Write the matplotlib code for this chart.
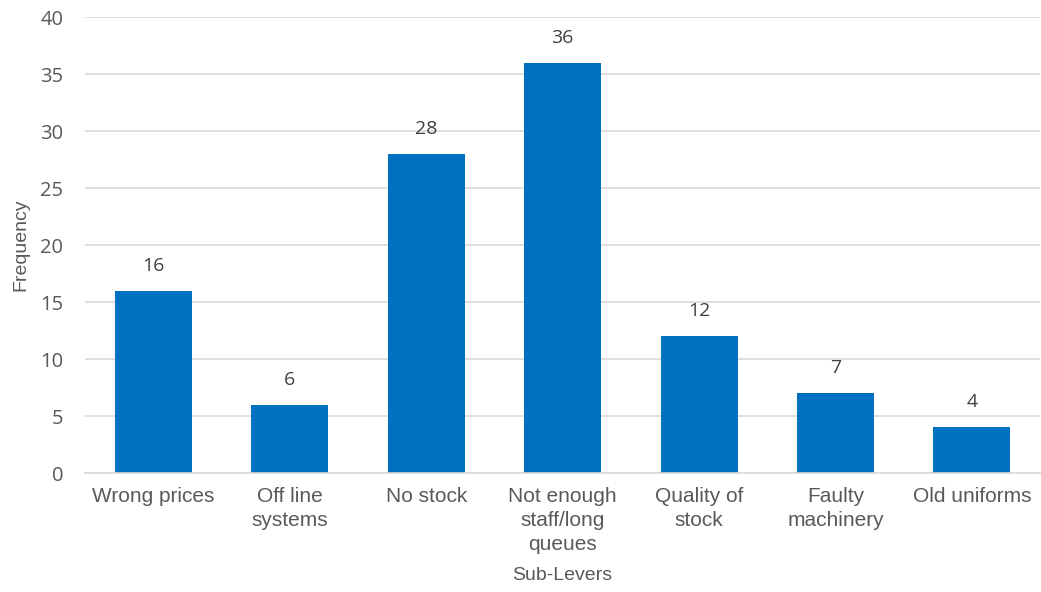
import numpy as np
import matplotlib
matplotlib.use("Agg")
import matplotlib.pyplot as plt

categories = ["Wrong prices", "Off line\nsystems", "No stock",
              "Not enough\nstaff/long\nqueues", "Quality of\nstock",
              "Faulty\nmachinery", "Old uniforms"]
frequency = [16, 6, 28, 36, 12, 7, 4]
y_ticks = [0, 5, 10, 15, 20, 25, 30, 35, 40]

BLUE = "#0070C0"
GREY = "#595959"
ARIAL = ["Liberation Sans", "Arial", "DejaVu Sans"]
SEGOE = ["Open Sans", "DejaVu Sans"]


def main():
    fig = plt.figure(figsize=(10.41, 5.92), dpi=100)
    ax = fig.add_axes([0.082, 0.201, 0.917, 0.770])

    x = np.arange(len(categories))
    ax.bar(x, frequency, width=0.565, color=BLUE, zorder=3)
    for xi, v in zip(x, frequency):
        ax.annotate(str(v), (xi, v), xytext=(0, 18), textcoords="offset points",
                    ha="center", va="center", fontsize=14, color="#404040",
                    family=SEGOE)

    ax.set_xlim(-0.5, len(categories) - 0.5)
    ax.set_ylim(0, 40)
    ax.set_yticks(y_ticks)
    ax.set_yticklabels([str(t) for t in y_ticks], family=SEGOE, fontsize=14.5,
                       color=GREY)
    ax.set_xticks(x)
    ax.set_xticklabels(categories, family=ARIAL, fontsize=15, color=GREY,
                       linespacing=1.35)
    ax.tick_params(axis="y", length=0, pad=16)
    ax.tick_params(axis="x", length=0, pad=10)
    ax.grid(axis="y", color="#D9D9D9", lw=1.2, zorder=0)
    for s in ("top", "right", "left"):
        ax.spines[s].set_visible(False)
    ax.spines["bottom"].set_color("#D9D9D9")
    ax.spines["bottom"].set_linewidth(1.2)
    ax.spines["bottom"].set_zorder(4)

    ax.set_ylabel("Frequency", family=ARIAL, fontsize=14, color=GREY, labelpad=8)
    ax.set_xlabel("Sub-Levers", family=ARIAL, fontsize=14, color=GREY, labelpad=9)

    fig.savefig("out.png", dpi=100)


if __name__ == "__main__":
    main()
